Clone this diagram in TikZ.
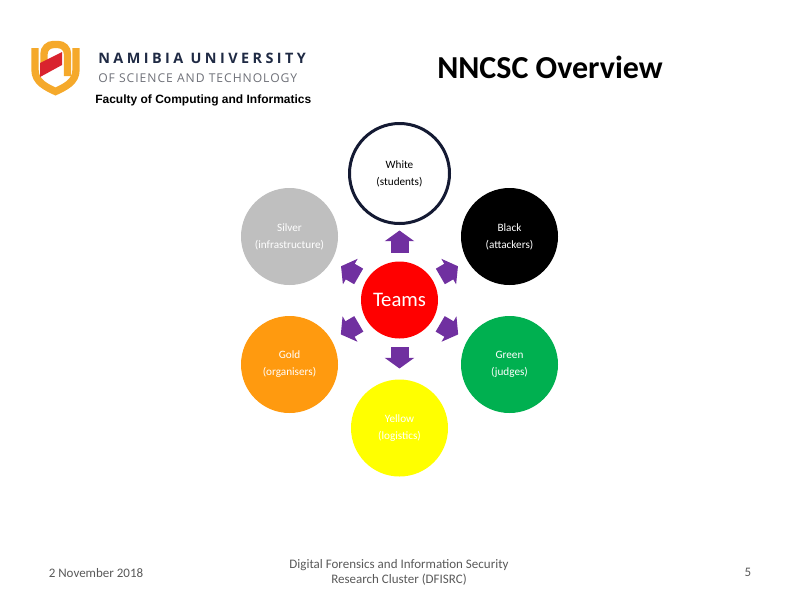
\documentclass[tikz,border=0pt]{standalone}
\usepackage{fontspec}
\usepackage{xcolor}
\setmainfont{Carlito}
\newfontfamily\headfont{Liberation Sans}
\newfontfamily\logofont[LetterSpace=24]{Open Sans}
\newfontfamily\logofonttwo[LetterSpace=8]{Open Sans}
\usetikzlibrary{arrows.meta}
\definecolor{logoorange}{HTML}{F5A92B}
\definecolor{logored}{HTML}{D9232E}
\definecolor{logonavy}{HTML}{1F2A44}
\definecolor{logogray}{HTML}{6E7078}
\definecolor{teamsilver}{HTML}{BFBFBF}
\definecolor{teamgold}{HTML}{FF9A0F}
\definecolor{teamgreen}{HTML}{00B050}
\definecolor{teamyellow}{HTML}{FFFF00}
\definecolor{arrowpurple}{HTML}{7030A0}
\definecolor{ringnavy}{HTML}{141A33}
\definecolor{footgray}{HTML}{595959}
\tikzset{
  team/.style={circle,minimum size=72.75pt,inner sep=0pt,outer sep=0pt,align=center,text=white,
    font=\fontsize{8.4}{12.75}\selectfont},
  blockarrow/.style={draw=arrowpurple,line width=13.5pt,
    -{Triangle[width=21.75pt,length=8pt,fill=arrowpurple]},shorten <=6.5pt,shorten >=8.25pt},
  foot/.style={text=footgray,align=center,font=\fontsize{9.75}{11.25}\selectfont}
}
\begin{document}
\begin{tikzpicture}[x=.75pt,y=-.75pt]
  \useasboundingbox (0,0) rectangle (799,601);
  % logo
  \draw[logoorange,line width=5.5pt] (35,48) -- (35,70) .. controls (35,82) and (46,87) .. (55.5,91.5) .. controls (65,87) and (76,82) .. (76,70) -- (76,48);
  \draw[logoorange,line width=5.5pt,rounded corners=7pt] (44,73) -- (44,44.5) -- (67.5,44.5) -- (67.5,76);
  \fill[logored] (40,63) -- (62,52) -- (62,65) -- (40,77) -- cycle;
  \node[text=logonavy,font=\logofont\bfseries\fontsize{10.8}{14}\selectfont,anchor=west,inner sep=0pt] (uni) at (98,58) {NAMIBIA UNIVERSITY};
  \node[text=logogray,font=\logofonttwo\fontsize{9.1}{12}\selectfont,anchor=west,inner sep=0pt] (tech) at (98,78) {OF SCIENCE AND TECHNOLOGY};
  \node[font=\headfont\bfseries\fontsize{9}{11}\selectfont,anchor=west,inner sep=0pt] (faculty) at (95,100.5) {Faculty of Computing and Informatics};
  \node[font=\bfseries\fontsize{24}{28}\selectfont,anchor=west,inner sep=0pt] (title) at (437,67) {NNCSC Overview};
  % teams
  \node[circle,draw=ringnavy,line width=2.25pt,minimum size=75pt,inner sep=0pt,outer sep=0pt,align=center,text=black,
    font=\fontsize{8.4}{12.75}\selectfont] (white) at (399.5,173.5) {White\\(students)};
  \node[team,fill=teamsilver] (silver) at (289.5,236.5) {Silver\\(infrastructure)};
  \node[team,fill=black] (black) at (509.5,236.5) {Black\\(attackers)};
  \node[team,fill=teamgold] (gold) at (289.5,364.5) {Gold\\(organisers)};
  \node[team,fill=teamgreen] (green) at (509.5,364.5) {Green\\(judges)};
  \node[team,fill=teamyellow] (yellow) at (399.5,428) {Yellow\\(logistics)};
  \node[circle,fill=red,minimum size=57.75pt,inner sep=0pt,outer sep=0pt,text=white,
    font=\fontsize{15.5}{18}\selectfont] (teams) at (399.5,300) {Teams};
  \draw[blockarrow,shorten >=5.25pt] (teams) -- (white);
  \foreach \t in {silver,black,gold,green,yellow}
    \draw[blockarrow] (teams) -- (\t);
  % footer
  \node[foot] (date) at (96,573) {2 November 2018};
  \node[foot] (cluster) at (399,572.5) {Digital Forensics and Information Security\\Research Cluster (DFISRC)};
  \node[foot] (page) at (748,572) {5};
\end{tikzpicture}
\end{document}
